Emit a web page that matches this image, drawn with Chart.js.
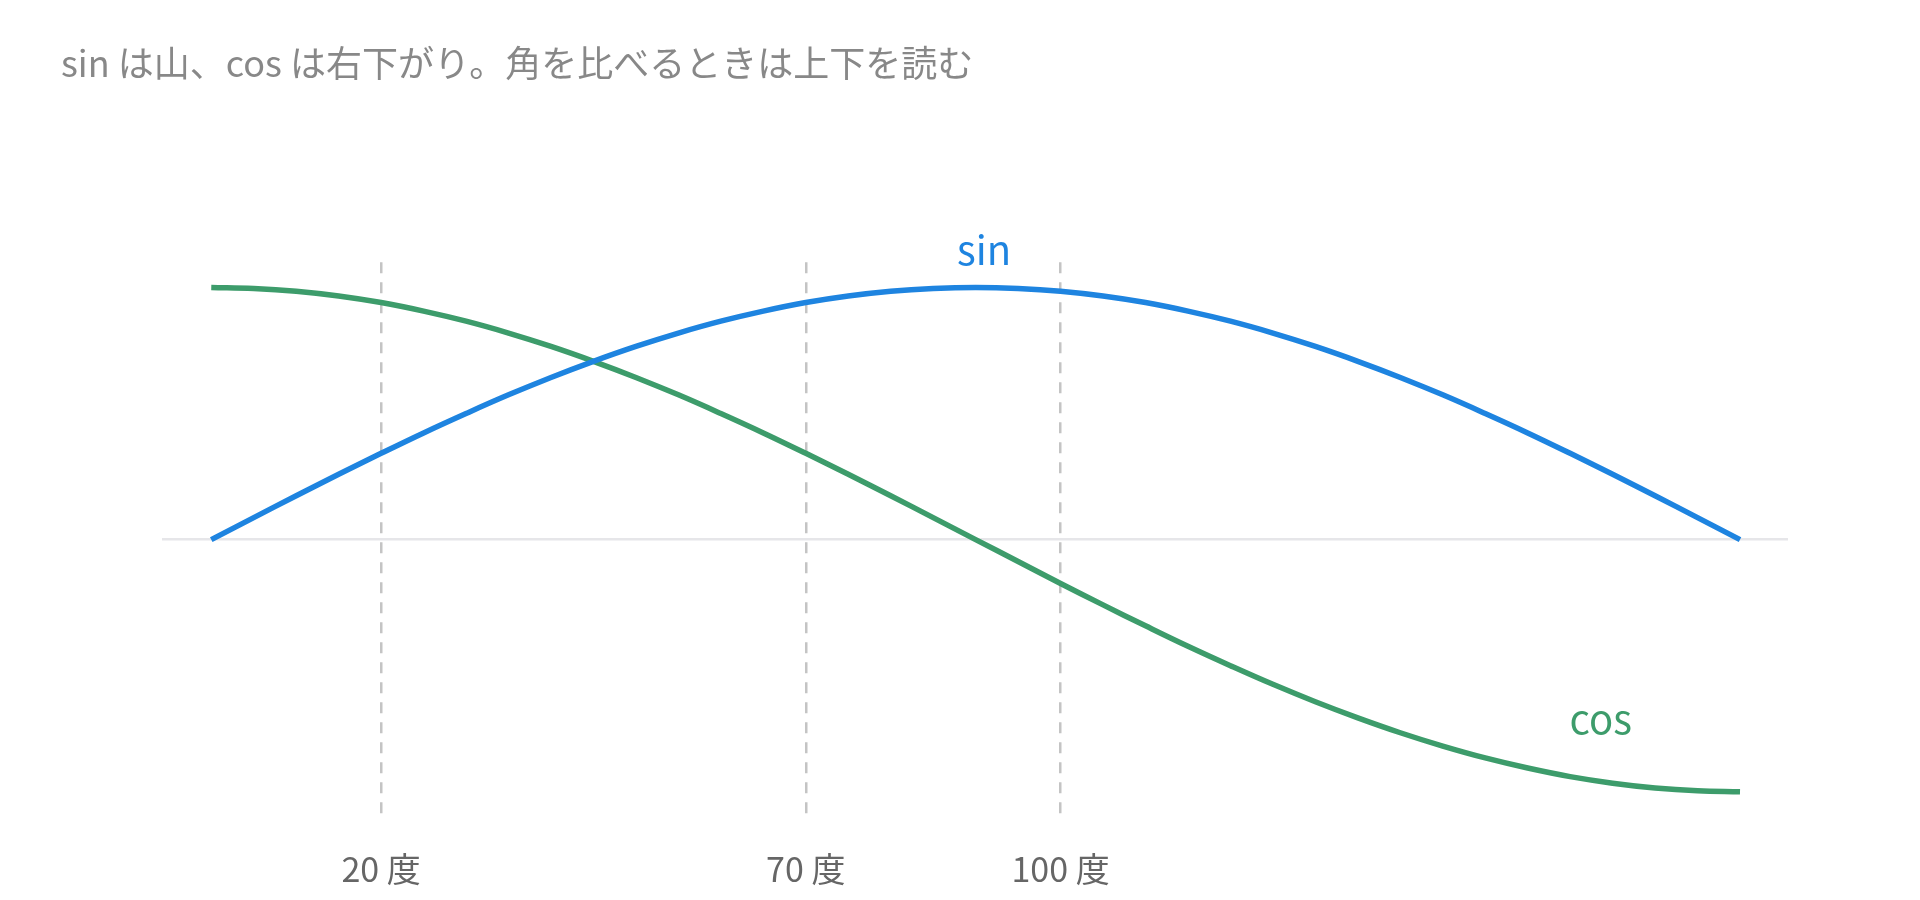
<!DOCTYPE html>
<html lang="ja">
<head>
<meta charset="utf-8">
<title>sin と cos</title>
<script src="https://cdn.jsdelivr.net/npm/chart.js@4/dist/chart.umd.min.js"></script>
<style>
    html, body { margin: 0; padding: 0; background: #fff; }
    canvas { display: block; }
</style>
</head>
<body>
<canvas id="waveChart" width="1920" height="900"></canvas>
<script>
// 角度(度)と読み取った値
const angles = [0, 5, 10, 15, 20, 25, 30, 35, 40, 45, 50, 55, 60, 65, 70, 75, 80, 85, 90,
    95, 100, 105, 110, 115, 120, 125, 130, 135, 140, 145, 150, 155, 160, 165, 170, 175, 180];
const sinValues = [0, 0.087, 0.174, 0.259, 0.342, 0.423, 0.5, 0.574, 0.643, 0.707, 0.766, 0.819, 0.866, 0.906, 0.94, 0.966, 0.985, 0.996, 1,
    0.996, 0.985, 0.966, 0.94, 0.906, 0.866, 0.819, 0.766, 0.707, 0.643, 0.574, 0.5, 0.423, 0.342, 0.259, 0.174, 0.087, 0];
const cosValues = [1, 0.996, 0.985, 0.966, 0.94, 0.906, 0.866, 0.819, 0.766, 0.707, 0.643, 0.574, 0.5, 0.423, 0.342, 0.259, 0.174, 0.087, 0,
    -0.087, -0.174, -0.259, -0.342, -0.423, -0.5, -0.574, -0.643, -0.707, -0.766, -0.819, -0.866, -0.906, -0.94, -0.966, -0.985, -0.996, -1];

// 目盛りを付ける角度
const markedAngles = [20, 70, 100];
const tickUnit = '度';

// 線の名前ラベル(データ座標)
const seriesNames = ['sin', 'cos'];
const nameAt = [{ x: 91, y: 1.09 }, { x: 163.6, y: -0.77 }];

const titleText = 'sin は山、cos は右下がり。角を比べるときは上下を読む';
const FONT = '"Noto Sans CJK JP", "Noto Sans", sans-serif';
const colors = ['#1e84e0', '#3d9c6b'];

function toPoints(values) {
    return angles.map((a, i) => ({ x: a, y: values[i] }));
}

// 線の横に名前を書く
const seriesNamePlugin = {
    id: 'seriesNames',
    afterDatasetsDraw(chart) {
        const ctx = chart.ctx;
        const xs = chart.scales.x;
        const ys = chart.scales.y;
        ctx.save();
        ctx.font = '40px ' + FONT;
        ctx.textAlign = 'center';
        ctx.textBaseline = 'alphabetic';
        seriesNames.forEach((name, i) => {
            ctx.fillStyle = colors[i];
            ctx.fillText(name, xs.getPixelForValue(nameAt[i].x), ys.getPixelForValue(nameAt[i].y));
        });
        ctx.restore();
    }
};

const ctx = document.getElementById('waveChart').getContext('2d');
new Chart(ctx, {
    type: 'line',
    data: {
        datasets: [{
            label: seriesNames[0],
            data: toPoints(sinValues),
            borderColor: colors[0],
            borderWidth: 5.5,
            tension: 0.4,
            pointRadius: 0,
            fill: false
        }, {
            label: seriesNames[1],
            data: toPoints(cosValues),
            borderColor: colors[1],
            borderWidth: 5.5,
            tension: 0.4,
            pointRadius: 0,
            fill: false
        }]
    },
    options: {
        responsive: false,
        animation: false,
        devicePixelRatio: 1,
        layout: {
            padding: { top: 20, left: 61, right: 132, bottom: 0 }
        },
        plugins: {
            legend: { display: false },
            tooltip: { enabled: false },
            title: {
                display: true,
                text: titleText,
                align: 'start',
                color: '#888888',
                font: { family: FONT, size: 36, weight: 'normal', lineHeight: 1.2 },
                padding: { top: 22, bottom: 177 }
            }
        },
        scales: {
            x: {
                type: 'linear',
                min: -5.8,
                max: 185.65,
                z: 1,
                afterBuildTicks(scale) {
                    scale.ticks = markedAngles.map(v => ({ value: v }));
                },
                afterFit(scale) {
                    scale.height = 78;
                },
                ticks: {
                    autoSkip: false,
                    maxRotation: 0,
                    padding: 27,
                    color: '#666666',
                    font: { family: FONT, size: 34 },
                    callback: v => v + ' ' + tickUnit
                },
                grid: {
                    color: '#c4c4c4',
                    lineWidth: 2.5,
                    drawTicks: false
                },
                border: { display: false, dash: [11, 9] }
            },
            y: {
                min: -1.12,
                max: 1.1,
                afterBuildTicks(scale) {
                    scale.ticks = [{ value: 0 }];
                },
                afterFit(scale) {
                    scale.width = 101;
                },
                ticks: { display: false },
                grid: {
                    color: '#e6e6e9',
                    lineWidth: 2.5,
                    drawTicks: false
                },
                border: { display: false }
            }
        }
    },
    plugins: [seriesNamePlugin]
});
</script>
</body>
</html>
